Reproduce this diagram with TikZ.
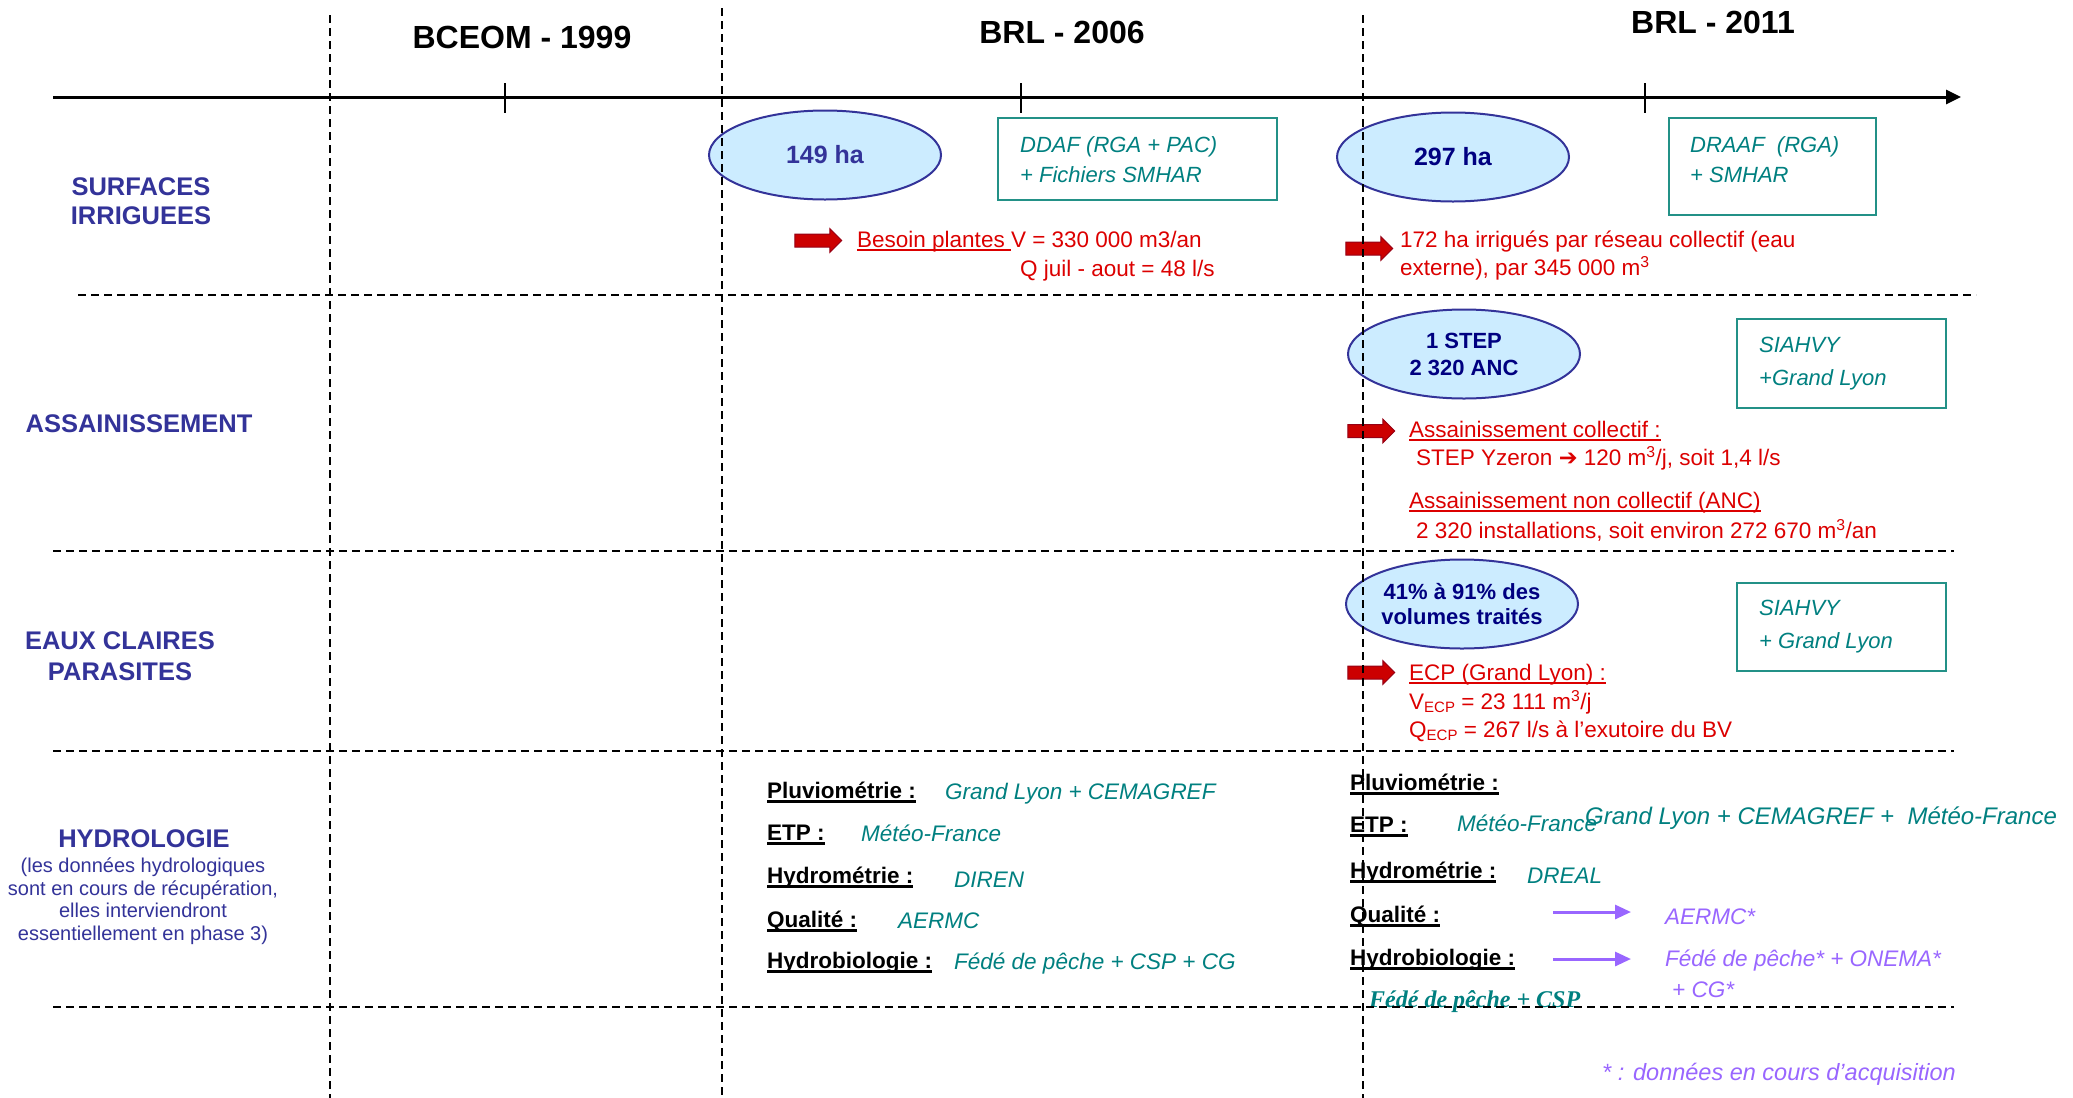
\documentclass[tikz,border=0pt]{standalone}
\usepackage{fontspec}
\setmainfont{Liberation Sans}
\newfontfamily\timesf{Liberation Serif}
\newfontfamily\djv{DejaVu Sans}
\usetikzlibrary{shapes.geometric,shapes.arrows,arrows.meta}
\definecolor{lbl}{RGB}{51,51,153}
\definecolor{navytx}{RGB}{0,0,128}
\definecolor{ellfill}{RGB}{204,236,255}
\definecolor{tealtx}{RGB}{0,128,128}
\definecolor{tealbd}{RGB}{35,145,135}
\definecolor{redtx}{RGB}{220,0,0}
\definecolor{arrred}{RGB}{204,0,0}
\definecolor{arrdark}{RGB}{150,0,20}
\definecolor{purp}{RGB}{153,102,255}
\newcommand\fsz[2]{\fontsize{#1}{#2}\selectfont}
\newcommand\ulr[1]{\setbox0\hbox{#1}\rlap{\rule[-4pt]{\wd0}{2pt}}\box0}
\newcommand\ulb[1]{\setbox0\hbox{#1}\rlap{\rule[-5pt]{\wd0}{2.6pt}}\box0}
\newcommand\subecp{\raisebox{-3pt}{\fsz{15}{15}ECP}}
\begin{document}
\begin{tikzpicture}[x=1pt,y=-1pt,
  txt/.style={inner sep=0pt, anchor=base west},
  redt/.style={txt, text=redtx, font=\fsz{22.5}{27}},
  hyl/.style={txt, font=\fsz{22.5}{27}\bfseries},
  hyv/.style={txt, text=tealtx, font=\fsz{22.5}{27}\itshape},
  pv/.style={txt, text=purp, font=\fsz{22.5}{27}\itshape},
  boxst/.style={rectangle, draw=tealbd, line width=2pt, fill=white, inner sep=0pt},
  boxt/.style={txt, text=tealtx, font=\fsz{22}{26}\itshape},
  ell/.style={ellipse, draw=lbl, line width=2pt, fill=ellfill, inner sep=0pt,
    minimum width=232pt, minimum height=89pt, align=center, text=navytx},
  sect/.style={text=lbl, font=\fsz{25.5}{29}\bfseries, align=center, inner sep=0pt},
  ttl/.style={font=\fsz{32}{36}\bfseries, inner sep=0pt, anchor=base},
  dsh/.style={dash pattern=on 8pt off 5pt, line width=2pt},
  redarr/.style={single arrow, fill=arrred, draw=arrdark, line width=1pt, minimum width=23pt,
    minimum height=47pt, single arrow head extend=5.5pt, inner sep=0pt},
  parr/.style={draw=purp, line width=3pt, -{Triangle[length=16pt,width=14pt]}},
  tick/.style={line width=2.5pt}
]
\useasboundingbox (0,0) rectangle (2073,1098);
\fill[white] (0,0) rectangle (2073,1098);

% titles
\node[ttl] (t1) at (522,48) {BCEOM - 1999};
\node[ttl] (t2) at (1062,43) {BRL - 2006};
\node[ttl] (t3) at (1713,33) {BRL - 2011};

% timeline
\coordinate (tl0) at (53,97);
\coordinate (tl1) at (1961,97);
\draw[line width=3pt, -{Triangle[length=15pt,width=14pt]}] (tl0) -- (tl1);
\coordinate (k1a) at (505,83); \coordinate (k1b) at (505,113);
\coordinate (k2a) at (1021,83); \coordinate (k2b) at (1021,113);
\coordinate (k3a) at (1645,83); \coordinate (k3b) at (1645,113);
\draw[tick] (k1a) -- (k1b);
\draw[tick] (k2a) -- (k2b);
\draw[tick] (k3a) -- (k3b);

% section labels
\node[sect] (s1) at (141,201) {SURFACES\\IRRIGUEES};
\node[sect] (s2) at (139,424) {ASSAINISSEMENT};
\node[sect, font=\fsz{25.5}{31}\bfseries] (s3) at (120,656) {EAUX CLAIRES\\PARASITES};
\node[sect] (s4) at (144,839) {HYDROLOGIE};
\node[sect, font=\fsz{20}{22.5}] (s4b) at (143,901) {(les données hydrologiques\\sont en cours de récupération,\\elles interviendront\\essentiellement en phase 3)};

% ellipses
\node[ell, font=\fsz{25}{29}\bfseries, text=lbl] (e1) at (825,155) {149 ha};
\node[ell, font=\fsz{25}{29}\bfseries] (e2) at (1453,157) {297 ha};
\node[ell, font=\fsz{22}{27}\bfseries] (e3) at (1464,354) {1 STEP\\2 320 ANC};
\node[ell, font=\fsz{22}{25}\bfseries] (e4) at (1462,604) {41\% à 91\% des\\volumes traités};

% boxes
\node[boxst, minimum width=279pt, minimum height=82pt] (b1) at (1137.5,159) {};
\node[boxt] (b1a) at (1020,152) {DDAF (RGA + PAC)};
\node[boxt] (b1b) at (1020,182) {+ Fichiers SMHAR};
\node[boxst, minimum width=207pt, minimum height=97pt] (b2) at (1772.5,166.5) {};
\node[boxt] (b2a) at (1690,152) {DRAAF\ \ (RGA)};
\node[boxt] (b2b) at (1690,182) {+ SMHAR};
\node[boxst, minimum width=209pt, minimum height=89pt] (b3) at (1841.5,363.5) {};
\node[boxt] (b3a) at (1759,352) {SIAHVY};
\node[boxt] (b3b) at (1759,385) {+Grand Lyon};
\node[boxst, minimum width=209pt, minimum height=88pt] (b4) at (1841.5,627) {};
\node[boxt] (b4a) at (1759,615) {SIAHVY};
\node[boxt] (b4b) at (1759,648) {+ Grand Lyon};

% red block arrows
\node[redarr] (ra1) at (815,240.5) {\rule{0pt}{12pt}};
\node[redarr] (ra2) at (1366,248.5) {\rule{0pt}{12pt}};
\node[redarr] (ra3) at (1368,431) {\rule{0pt}{12pt}};
\node[redarr] (ra4) at (1368,672.5) {\rule{0pt}{12pt}};

% red texts
\node[redt] (r1a) at (857,247) {\ulr{Besoin plantes }V = 330 000 m3/an};
\node[redt] (r1b) at (1020,276) {Q juil - aout = 48 l/s};
\node[redt] (r2a) at (1400,247) {172 ha irrigués par réseau collectif (eau};
\node[redt] (r2b) at (1400,275) {externe), par 345 000 m\textsuperscript{3}};
\node[redt] (r3a) at (1409,437) {\ulr{Assainissement collectif :}};
\node[redt] (r3b) at (1416,465) {STEP Yzeron {\djv\bfseries ➔} 120 m\textsuperscript{3}/j, soit 1,4 l/s};
\node[redt] (r3c) at (1409,508) {\ulr{Assainissement non collectif (ANC)}};
\node[redt] (r3d) at (1416,538) {2 320 installations, soit environ 272 670 m\textsuperscript{3}/an};
\node[redt] (r4a) at (1409,680) {\ulr{ECP (Grand Lyon) :}};
\node[redt] (r4b) at (1409,709) {V\subecp\ = 23 111 m\textsuperscript{3}/j};
\node[redt] (r4c) at (1409,737) {Q\subecp\ = 267 l/s à l’exutoire du BV};

% hydrology column 1
\node[hyl] (h1a) at (767,798) {\ulb{Pluviométrie :}};
\node[hyv] (h1av) at (945,799) {Grand Lyon + CEMAGREF};
\node[hyl] (h1b) at (767,840) {\ulb{ETP :}};
\node[hyv] (h1bv) at (861,841) {Météo-France};
\node[hyl] (h1c) at (767,883) {\ulb{Hydrométrie :}};
\node[hyv] (h1cv) at (954,887) {DIREN};
\node[hyl] (h1d) at (767,927) {\ulb{Qualité :}};
\node[hyv] (h1dv) at (898,928) {AERMC};
\node[hyl] (h1e) at (767,968) {\ulb{Hydrobiologie :}};
\node[hyv] (h1ev) at (954,969) {Fédé de pêche + CSP + CG};

% hydrology column 2
\node[hyl] (h2a) at (1350,790) {\ulb{Pluviométrie :}};
\node[hyl] (h2b) at (1350,832) {\ulb{ETP :}};
\node[hyv] (h2bv) at (1457,831) {Météo-France};
\node[hyv, font=\fsz{24}{28}\itshape] (h2av) at (1585,824) {Grand Lyon + CEMAGREF +\ \ Météo-France};
\node[hyl] (h2c) at (1350,878) {\ulb{Hydrométrie :}};
\node[hyv] (h2cv) at (1527,883) {DREAL};
\node[hyl] (h2d) at (1350,922) {\ulb{Qualité :}};
\node[pv] (h2dv) at (1665,924) {AERMC*};
\node[hyl] (h2e) at (1350,965) {\ulb{Hydrobiologie :}};
\node[pv] (h2ev) at (1665,966) {Fédé de pêche* + ONEMA*};
\node[pv] (h2ev2) at (1672,997) {+ CG*};
\node[txt, text=tealtx, font=\fsz{24}{28}\timesf\bfseries\itshape] (h2f) at (1369,1007) {Fédé de pêche + CSP};
\node[pv, font=\fsz{23.5}{28}\itshape] (note) at (1602,1080) {* : données en cours d’acquisition};

\coordinate (pa1) at (1553,912); \coordinate (pa2) at (1631,912);
\coordinate (pb1) at (1553,959); \coordinate (pb2) at (1631,959);
\draw[parr] (pa1) -- (pa2);
\draw[parr] (pb1) -- (pb2);

% dashed grid
\coordinate (v1a) at (330,15); \coordinate (v1b) at (330,1098);
\coordinate (v2a) at (722,8); \coordinate (v2b) at (722,1098);
\coordinate (v3a) at (1363,15); \coordinate (v3b) at (1363,1098);
\draw[dsh] (v1a) -- (v1b);
\draw[dsh] (v2a) -- (v2b);
\draw[dsh] (v3a) -- (v3b);
\coordinate (hA0) at (78,295); \coordinate (hA1) at (1976,295);
\coordinate (hB0) at (53,551); \coordinate (hB1) at (1954,551);
\coordinate (hC0) at (53,751); \coordinate (hC1) at (1954,751);
\coordinate (hD0) at (53,1007); \coordinate (hD1) at (1954,1007);
\draw[dsh] (hA0) -- (hA1);
\draw[dsh] (hB0) -- (hB1);
\draw[dsh] (hC0) -- (hC1);
\draw[dsh] (hD0) -- (hD1);
\end{tikzpicture}
\end{document}
